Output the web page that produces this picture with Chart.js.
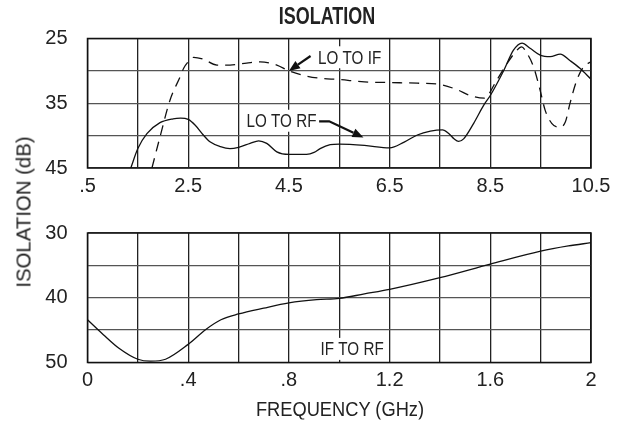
<!DOCTYPE html>
<html lang="en">
<head>
    <meta charset="UTF-8">
    <title>Isolation</title>
    <style>
        body { margin: 0; background: #fff; }
        #wrap { position: relative; width: 619px; height: 421px; overflow: hidden;
                font-family: 'Liberation Sans', Arial, sans-serif; color: #222; }
        #topChart { position: absolute; left: 0; top: 0; }
        #botChart { position: absolute; left: 0; top: 200px; }
        .lbl { position: absolute; white-space: nowrap; line-height: 1; }
        .title { left: 327px; top: 16px; font-weight: bold; font-size: 23px;
                 transform: translate(-50%, -50%) scaleX(0.78); }
        .ytitle { left: 22.5px; top: 211.5px; font-size: 21px;
                  transform: translate(-50%, -50%) rotate(-90deg) scaleX(0.97); }
        .xtitle { left: 340px; top: 408px; font-size: 21px;
                  transform: translate(-50%, -50%) scaleX(0.87); }
    </style>
</head>
<body>
<div id="wrap">
    <canvas id="topChart" width="619" height="200"></canvas>
    <canvas id="botChart" width="619" height="221"></canvas>
    <div class="lbl title">ISOLATION</div>
    <div class="lbl ytitle">ISOLATION (dB)</div>
    <div class="lbl xtitle">FREQUENCY (GHz)</div>
</div>
<script src="https://cdn.jsdelivr.net/npm/chart.js@4.4.1/dist/chart.umd.min.js"></script>
<script>
// top panel, 0.5 - 10.5 GHz
var loRfFreq = [1.36, 1.5, 1.68, 1.94, 2.2, 2.35, 2.5, 2.64, 2.8, 2.94, 3.14, 3.33, 3.5, 3.73, 3.9, 4.06, 4.26, 4.5, 4.85, 5.0, 5.12, 5.32, 5.5, 6.0, 6.5, 6.79, 7.05, 7.31, 7.55, 7.68, 7.78, 7.87, 7.97, 8.17, 8.37, 8.5, 8.77, 8.96, 9.13, 9.29, 9.5, 9.69, 9.89, 10.08, 10.28, 10.5];
var loRfIso  = [45, 42.0, 39.7, 38.0, 37.4, 37.3, 37.5, 38.4, 39.9, 41.0, 41.7, 42.0, 41.8, 41.2, 40.8, 41.2, 42.5, 42.9, 42.9, 42.6, 42.0, 41.4, 41.3, 41.5, 41.9, 41.0, 39.9, 39.3, 39.1, 39.7, 40.5, 40.9, 40.5, 38.1, 35.3, 33.8, 29.9, 26.8, 25.7, 26.5, 27.6, 27.8, 27.4, 28.4, 29.6, 31.3];

var loIfFreq = [1.78, 1.94, 2.14, 2.34, 2.41, 2.5, 2.61, 2.8, 3.07, 3.33, 3.66, 3.93, 4.26, 4.5, 4.85, 5.19, 5.45, 6.0, 6.5, 7.05, 7.5, 7.84, 8.1, 8.38, 8.63, 8.83, 9.03, 9.12, 9.23, 9.36, 9.49, 9.59, 9.72, 9.86, 9.99, 10.08, 10.22, 10.35, 10.5];
var loIfIso  = [45, 40.2, 34.5, 30.9, 29.6, 28.6, 27.9, 28.2, 29.1, 29.1, 28.8, 28.6, 29.1, 30.0, 30.8, 31.2, 31.3, 31.7, 31.8, 31.9, 32.1, 32.9, 33.8, 34.2, 31.4, 28.9, 26.8, 26.3, 27.3, 29.4, 33.0, 36.1, 38.1, 38.7, 37.9, 35.1, 31.4, 29.4, 28.6];

// bottom panel, 0 - 2 GHz
var ifRfFreq = [0, 0.063, 0.125, 0.2, 0.25, 0.31, 0.4, 0.47, 0.53, 0.6, 0.7, 0.8, 0.91, 1.0, 1.1, 1.2, 1.4, 1.6, 1.8, 1.91, 2.0];
var ifRfIso  = [43.4, 45.7, 47.8, 49.5, 49.8, 49.5, 47.2, 44.9, 43.4, 42.5, 41.6, 40.8, 40.3, 40.1, 39.4, 38.7, 36.9, 34.8, 32.8, 32.0, 31.5];

var topXGrid   = [0.5, 1.5, 2.5, 3.5, 4.5, 5.5, 6.5, 7.5, 8.5, 9.5, 10.5];
var topXLabels = ['.5', '', '2.5', '', '4.5', '', '6.5', '', '8.5', '', '10.5'];
var topYGrid   = [25, 30, 35, 40, 45];
var topYLabels = ['25', '', '35', '', '45'];

var botXGrid   = [0, 0.2, 0.4, 0.6, 0.8, 1.0, 1.2, 1.4, 1.6, 1.8, 2.0];
var botXLabels = ['0', '', '.4', '', '.8', '', '1.2', '', '1.6', '', '2'];
var botYGrid   = [30, 35, 40, 45, 50];
var botYLabels = ['30', '', '40', '', '50'];

var FONT = "'Liberation Sans', Arial, sans-serif";
var SQUEEZE = 0.8;   // the original lettering is a narrow face

function pts(xs, ys) {
    return xs.map(function (x, i) { return { x: x, y: ys[i] }; });
}

function fixedTicks(values) {
    return function (scale) {
        scale.ticks = values.map(function (v) { return { value: v }; });
    };
}

function labelFrom(values, labels) {
    return function (v) {
        var i = values.indexOf(Math.round(v * 100) / 100);
        return i < 0 ? '' : labels[i];
    };
}

// frame, text labels on a white box, and arrows, placed in data coordinates
var frame = {
    id: 'frame',
    beforeDatasetsDraw: function (chart, args, opts) {
        var ctx = chart.ctx, a = chart.chartArea;
        var xs = chart.scales.x, ys = chart.scales.y;
        ctx.save();
        ctx.strokeStyle = '#111';
        ctx.lineWidth = 1.5;
        ctx.strokeRect(a.left, a.top, a.right - a.left, a.bottom - a.top);
        ctx.font = '19px ' + FONT;
        ctx.textBaseline = 'middle';
        (opts.notes || []).forEach(function (n) {
            var px = xs.getPixelForValue(n.x), py = ys.getPixelForValue(n.y);
            var w = ctx.measureText(n.text).width * SQUEEZE;
            ctx.fillStyle = '#fff';
            ctx.fillRect(px - 3, py - 11, w + 6, 22);
            ctx.fillStyle = '#222';
            ctx.save();
            ctx.translate(px, py + 1);
            ctx.scale(SQUEEZE, 1);
            ctx.fillText(n.text, 0, 0);
            ctx.restore();
        });
        ctx.restore();
    },
    afterDatasetsDraw: function (chart, args, opts) {
        var ctx = chart.ctx;
        var xs = chart.scales.x, ys = chart.scales.y;
        ctx.save();
        ctx.strokeStyle = '#111';
        ctx.fillStyle = '#111';
        ctx.lineWidth = 2.2;
        (opts.arrows || []).forEach(function (ar) {
            var p = ar.path.map(function (q) { return [xs.getPixelForValue(q[0]), ys.getPixelForValue(q[1])]; });
            var n = p.length;
            var tip = p[n - 1], prev = p[n - 2];
            var ang = Math.atan2(tip[1] - prev[1], tip[0] - prev[0]);
            var hl = 11, hw = 4.5;
            var bx = tip[0] - hl * Math.cos(ang), by = tip[1] - hl * Math.sin(ang);
            ctx.beginPath();
            ctx.moveTo(p[0][0], p[0][1]);
            for (var i = 1; i < n - 1; i++) ctx.lineTo(p[i][0], p[i][1]);
            ctx.lineTo(bx, by);
            ctx.stroke();
            ctx.beginPath();
            ctx.moveTo(tip[0], tip[1]);
            ctx.lineTo(bx + hw * Math.sin(ang), by - hw * Math.cos(ang));
            ctx.lineTo(bx - hw * Math.sin(ang), by + hw * Math.cos(ang));
            ctx.closePath();
            ctx.fill();
        });
        ctx.restore();
    }
};

function axisY(min, max, grid, labels) {
    return {
        type: 'linear', reverse: true, min: min, max: max,
        afterBuildTicks: fixedTicks(grid),
        afterFit: function (s) { s.width = 87.5; },
        grid: { color: '#555', lineWidth: 1.3, drawTicks: false },
        border: { display: false },
        ticks: { padding: 20, color: '#222', font: { family: FONT, size: 20 },
                 autoSkip: false, callback: labelFrom(grid, labels) }
    };
}

function axisX(min, max, grid, labels, h) {
    return {
        type: 'linear', min: min, max: max,
        afterBuildTicks: fixedTicks(grid),
        afterFit: function (s) { s.height = h; },
        grid: { color: '#222', lineWidth: 1.3, drawTicks: false },
        border: { display: false },
        ticks: { padding: 6, color: '#222', font: { family: FONT, size: 20 },
                 autoSkip: false, maxRotation: 0, callback: labelFrom(grid, labels) }
    };
}

var lineBase = { borderColor: '#111', borderWidth: 1.3, pointRadius: 0, fill: false,
                 cubicInterpolationMode: 'monotone' };

new Chart(document.getElementById('topChart'), {
    type: 'scatter',
    data: {
        datasets: [
            Object.assign({ label: 'LO TO RF', data: pts(loRfFreq, loRfIso), showLine: true }, lineBase),
            Object.assign({ label: 'LO TO IF', data: pts(loIfFreq, loIfIso), showLine: true, borderDash: [10, 7] }, lineBase)
        ]
    },
    options: {
        responsive: false, animation: false, events: [],
        layout: { padding: { top: 38.5, right: 28, left: 0, bottom: 0 } },
        scales: {
            x: axisX(0.5, 10.5, topXGrid, topXLabels, 32),
            y: axisY(25, 45, topYGrid, topYLabels)
        },
        plugins: {
            legend: { display: false }, tooltip: { enabled: false },
            frame: {
                notes: [ { text: 'LO TO IF', x: 5.08, y: 27.9 }, { text: 'LO TO RF', x: 3.66, y: 37.7 } ],
                arrows: [ { path: [[4.93, 27.7], [4.5, 30]] },
                          { path: [[5.1, 37.8], [5.3, 37.8], [5.98, 40.3]] } ]
            }
        }
    },
    plugins: [frame]
});

new Chart(document.getElementById('botChart'), {
    type: 'scatter',
    data: {
        datasets: [
            Object.assign({ label: 'IF TO RF', data: pts(ifRfFreq, ifRfIso), showLine: true }, lineBase)
        ]
    },
    options: {
        responsive: false, animation: false, events: [],
        layout: { padding: { top: 33, right: 28, left: 0, bottom: 0 } },
        scales: {
            x: axisX(0, 2, botXGrid, botXLabels, 58.5),
            y: axisY(30, 50, botYGrid, botYLabels)
        },
        plugins: {
            legend: { display: false }, tooltip: { enabled: false },
            frame: { notes: [ { text: 'IF TO RF', x: 0.926, y: 47.9 } ], arrows: [] }
        }
    },
    plugins: [frame]
});
</script>
</body>
</html>
